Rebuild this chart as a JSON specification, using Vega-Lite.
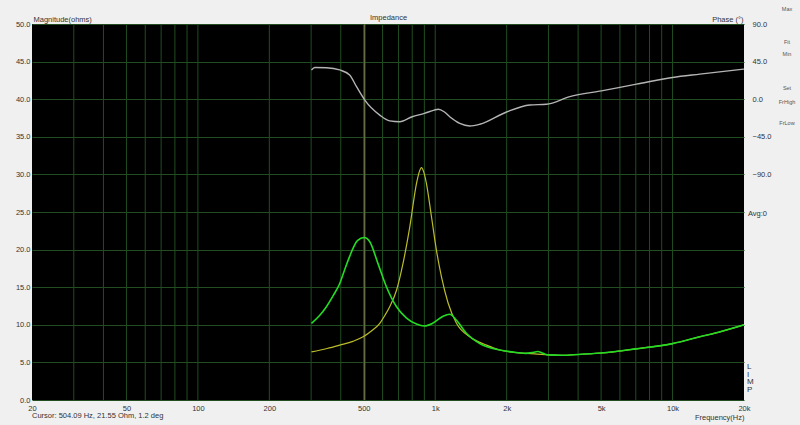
{
  "$schema": "https://vega.github.io/schema/vega-lite/v6.json",
  "width": 712,
  "height": 376,
  "autosize": {"type": "none"},
  "padding": {"left": 32, "top": 24, "right": 56, "bottom": 25},
  "background": "#f0f0f0",
  "title": {
    "text": "Cursor: 504.09 Hz, 21.55 Ohm, 1.2 deg",
    "orient": "bottom",
    "anchor": "start",
    "frame": "group",
    "offset": -9,
    "fontSize": 7.5,
    "fontWeight": "normal",
    "color": "#333333"
  },
  "datasets": {
    "one": [{}],
    "grid": [
      {"f": 30}, {"f": 40}, {"f": 50}, {"f": 60}, {"f": 70}, {"f": 80}, {"f": 90}, {"f": 100},
      {"f": 200}, {"f": 300}, {"f": 400}, {"f": 500}, {"f": 600}, {"f": 700}, {"f": 800}, {"f": 900}, {"f": 1000},
      {"f": 2000}, {"f": 3000}, {"f": 4000}, {"f": 5000}, {"f": 6000}, {"f": 7000}, {"f": 8000}, {"f": 9000}, {"f": 10000}
    ],
    "mag": [
      {"s": "A", "f": 301, "z": 10.2}, {"s": "A", "f": 325, "z": 11.2}, {"s": "A", "f": 348, "z": 12.4},
      {"s": "A", "f": 372, "z": 13.9}, {"s": "A", "f": 396, "z": 15.5}, {"s": "A", "f": 415, "z": 17.3},
      {"s": "A", "f": 436, "z": 19.1}, {"s": "A", "f": 470, "z": 21.2}, {"s": "A", "f": 502, "z": 21.6},
      {"s": "A", "f": 530, "z": 21.05}, {"s": "A", "f": 573, "z": 18.2}, {"s": "A", "f": 622, "z": 15.1},
      {"s": "A", "f": 687, "z": 12.4}, {"s": "A", "f": 757, "z": 10.9}, {"s": "A", "f": 834, "z": 10.1},
      {"s": "A", "f": 900, "z": 9.84}, {"s": "A", "f": 975, "z": 10.2}, {"s": "A", "f": 1075, "z": 11.1},
      {"s": "A", "f": 1151, "z": 11.4}, {"s": "A", "f": 1229, "z": 10.6}, {"s": "A", "f": 1350, "z": 8.9},
      {"s": "A", "f": 1541, "z": 7.5}, {"s": "A", "f": 1870, "z": 6.65}, {"s": "A", "f": 2100, "z": 6.4},
      {"s": "A", "f": 2400, "z": 6.2}, {"s": "A", "f": 2600, "z": 6.35}, {"s": "A", "f": 2700, "z": 6.45},
      {"s": "A", "f": 2850, "z": 6.2}, {"s": "A", "f": 3000, "z": 6.0}, {"s": "A", "f": 3400, "z": 5.95},
      {"s": "A", "f": 4000, "z": 6.05}, {"s": "A", "f": 5000, "z": 6.25}, {"s": "A", "f": 7000, "z": 6.8},
      {"s": "A", "f": 10000, "z": 7.5}, {"s": "A", "f": 13000, "z": 8.4}, {"s": "A", "f": 16000, "z": 9.1},
      {"s": "A", "f": 20000, "z": 10.0},
      {"s": "B", "f": 301, "z": 6.4}, {"s": "B", "f": 350, "z": 6.85}, {"s": "B", "f": 396, "z": 7.3},
      {"s": "B", "f": 450, "z": 7.8}, {"s": "B", "f": 497, "z": 8.4}, {"s": "B", "f": 540, "z": 9.2},
      {"s": "B", "f": 584, "z": 10.2}, {"s": "B", "f": 615, "z": 11.3}, {"s": "B", "f": 643, "z": 12.4},
      {"s": "B", "f": 687, "z": 14.6}, {"s": "B", "f": 732, "z": 18.2}, {"s": "B", "f": 781, "z": 23.0},
      {"s": "B", "f": 834, "z": 28.8}, {"s": "B", "f": 856, "z": 30.3}, {"s": "B", "f": 875, "z": 30.9},
      {"s": "B", "f": 895, "z": 30.3}, {"s": "B", "f": 918, "z": 28.8}, {"s": "B", "f": 964, "z": 24.4},
      {"s": "B", "f": 1012, "z": 19.9}, {"s": "B", "f": 1062, "z": 16.4}, {"s": "B", "f": 1133, "z": 12.9},
      {"s": "B", "f": 1229, "z": 10.2}, {"s": "B", "f": 1398, "z": 8.4}, {"s": "B", "f": 1644, "z": 7.3},
      {"s": "B", "f": 1870, "z": 6.65}, {"s": "B", "f": 2200, "z": 6.3}, {"s": "B", "f": 2700, "z": 6.1},
      {"s": "B", "f": 3000, "z": 6.0}, {"s": "B", "f": 3400, "z": 5.95}, {"s": "B", "f": 4000, "z": 6.05},
      {"s": "B", "f": 5000, "z": 6.25}, {"s": "B", "f": 7000, "z": 6.8}, {"s": "B", "f": 10000, "z": 7.5},
      {"s": "B", "f": 13000, "z": 8.4}, {"s": "B", "f": 16000, "z": 9.1}, {"s": "B", "f": 20000, "z": 10.0}
    ],
    "phase": [
      {"f": 301, "p": 35}, {"f": 311, "p": 38}, {"f": 348, "p": 37.7}, {"f": 396, "p": 35},
      {"f": 436, "p": 29}, {"f": 466, "p": 15}, {"f": 505, "p": -1}, {"f": 584, "p": -19},
      {"f": 643, "p": -26}, {"f": 709, "p": -27}, {"f": 800, "p": -21}, {"f": 900, "p": -17},
      {"f": 990, "p": -13}, {"f": 1030, "p": -12}, {"f": 1090, "p": -15}, {"f": 1151, "p": -21},
      {"f": 1269, "p": -29}, {"f": 1398, "p": -32}, {"f": 1541, "p": -30}, {"f": 2008, "p": -15},
      {"f": 2502, "p": -7}, {"f": 2944, "p": -6}, {"f": 3690, "p": 3}, {"f": 5018, "p": 10},
      {"f": 7047, "p": 18}, {"f": 9990, "p": 26}, {"f": 13020, "p": 30}, {"f": 20000, "p": 36}
    ]
  },
  "layer": [
    {
      "layer": [
        {
          "data": {"name": "grid"},
          "mark": {"type": "rule", "color": "#214d21", "strokeWidth": 1},
          "encoding": {
            "x": {
              "field": "f",
              "type": "quantitative",
              "scale": {"type": "log", "domain": [20, 20000], "nice": false},
              "axis": {
                "values": [20, 50, 100, 200, 500, 1000, 2000, 5000, 10000, 20000],
                "tickCount": 20,
                "labelExpr": "datum.value >= 1000 ? (datum.value / 1000) + 'k' : datum.value",
                "labelOverlap": false,
                "grid": false,
                "ticks": false,
                "domain": false,
                "labelFlush": false,
                "labelPadding": 4,
                "title": "Frequency(Hz)",
                "titleAnchor": "end",
                "titlePadding": 2
              }
            }
          }
        },
        {
          "data": {"name": "one"},
          "mark": {"type": "rule", "color": "#646c46", "strokeWidth": 1.5},
          "encoding": {"x": {"datum": 504.09}}
        },
        {
          "data": {"name": "mag"},
          "transform": [{"filter": "datum.s == 'B'"}],
          "mark": {"type": "line", "color": "#bcbc2a", "strokeWidth": 1.2, "interpolate": "monotone"},
          "encoding": {
            "x": {"field": "f", "type": "quantitative"},
            "y": {
              "field": "z",
              "type": "quantitative",
              "scale": {"domain": [0, 50], "nice": false, "zero": true},
              "axis": {
                "values": [0, 5, 10, 15, 20, 25, 30, 35, 40, 45, 50],
                "tickCount": 20,
                "labelOverlap": false,
                "format": ".1f",
                "grid": true,
                "gridColor": "#214d21",
                "gridOpacity": 1,
                "ticks": false,
                "domain": false,
                "labelPadding": 2,
                "title": "Magnitude(ohms)",
                "titleAngle": 0,
                "titleAlign": "left",
                "titleBaseline": "alphabetic",
                "titleX": 1,
                "titleY": -3
              }
            }
          }
        },
        {
          "data": {"name": "mag"},
          "transform": [{"filter": "datum.s == 'A'"}],
          "mark": {"type": "line", "color": "#24dc24", "strokeWidth": 1.6, "interpolate": "monotone"},
          "encoding": {
            "x": {"field": "f", "type": "quantitative"},
            "y": {"field": "z", "type": "quantitative"}
          }
        },
        {
          "data": {"name": "one"},
          "mark": {"type": "text", "align": "left", "baseline": "middle", "dx": 4, "fontSize": 7.5, "color": "#333333"},
          "encoding": {"x": {"datum": 20000}, "y": {"datum": 24.7}, "text": {"value": "Avg:0"}}
        },
        {
          "data": {"name": "one"},
          "mark": {"type": "text", "align": "left", "baseline": "top", "dx": 3, "fontSize": 8, "lineHeight": 7.5, "lineBreak": "\n", "color": "#333333"},
          "encoding": {"x": {"datum": 20000}, "y": {"datum": 4.9}, "text": {"value": "L\nI\nM\nP"}}
        },
        {
          "data": {"name": "one"},
          "mark": {"type": "text", "align": "center", "baseline": "middle", "dx": 43, "fontSize": 5.5, "color": "#555555"},
          "encoding": {"x": {"datum": 20000}, "y": {"datum": 52}, "text": {"value": "Max"}}
        },
        {
          "data": {"name": "one"},
          "mark": {"type": "text", "align": "center", "baseline": "middle", "dx": 43, "fontSize": 5.5, "color": "#555555"},
          "encoding": {"x": {"datum": 20000}, "y": {"datum": 47.6}, "text": {"value": "Fit"}}
        },
        {
          "data": {"name": "one"},
          "mark": {"type": "text", "align": "center", "baseline": "middle", "dx": 43, "fontSize": 5.5, "color": "#555555"},
          "encoding": {"x": {"datum": 20000}, "y": {"datum": 46}, "text": {"value": "Min"}}
        },
        {
          "data": {"name": "one"},
          "mark": {"type": "text", "align": "center", "baseline": "middle", "dx": 43, "fontSize": 5.5, "color": "#555555"},
          "encoding": {"x": {"datum": 20000}, "y": {"datum": 41.5}, "text": {"value": "Set"}}
        },
        {
          "data": {"name": "one"},
          "mark": {"type": "text", "align": "center", "baseline": "middle", "dx": 43, "fontSize": 5.5, "color": "#555555"},
          "encoding": {"x": {"datum": 20000}, "y": {"datum": 39.6}, "text": {"value": "FrHigh"}}
        },
        {
          "data": {"name": "one"},
          "mark": {"type": "text", "align": "center", "baseline": "middle", "dx": 43, "fontSize": 5.5, "color": "#555555"},
          "encoding": {"x": {"datum": 20000}, "y": {"datum": 36.8}, "text": {"value": "FrLow"}}
        }
      ]
    },
    {
      "data": {"name": "phase"},
      "mark": {"type": "line", "color": "#b4b4b4", "strokeWidth": 1.4, "interpolate": "monotone"},
      "encoding": {
        "x": {
          "field": "f",
          "type": "quantitative",
          "scale": {"type": "log", "domain": [20, 20000], "nice": false},
          "axis": {
            "orient": "top",
            "labels": false,
            "ticks": false,
            "domain": false,
            "grid": false,
            "title": "Impedance",
            "titlePadding": 3
          }
        },
        "y": {
          "field": "p",
          "type": "quantitative",
          "scale": {"domain": [-360, 90], "nice": false, "zero": false},
          "axis": {
            "orient": "right",
            "values": [90, 45, 0, -45, -90],
            "tickCount": 20,
            "labelOverlap": false,
            "format": ".1f",
            "grid": false,
            "ticks": false,
            "domain": false,
            "labelPadding": 8,
            "labelAlign": "left",
            "title": "Phase (°)",
            "titleAngle": 0,
            "titleAlign": "right",
            "titleBaseline": "alphabetic",
            "titleX": -1,
            "titleY": -3
          }
        }
      }
    }
  ],
  "resolve": {"scale": {"y": "independent"}, "axis": {"x": "independent"}},
  "config": {
    "view": {"fill": "#000000", "stroke": null},
    "font": "Liberation Sans",
    "axis": {
      "labelFont": "Liberation Sans",
      "titleFont": "Liberation Sans",
      "labelFontSize": 7.5,
      "titleFontSize": 7.5,
      "labelColor": "#333333",
      "titleColor": "#333333",
      "titleFontWeight": "normal"
    }
  }
}
